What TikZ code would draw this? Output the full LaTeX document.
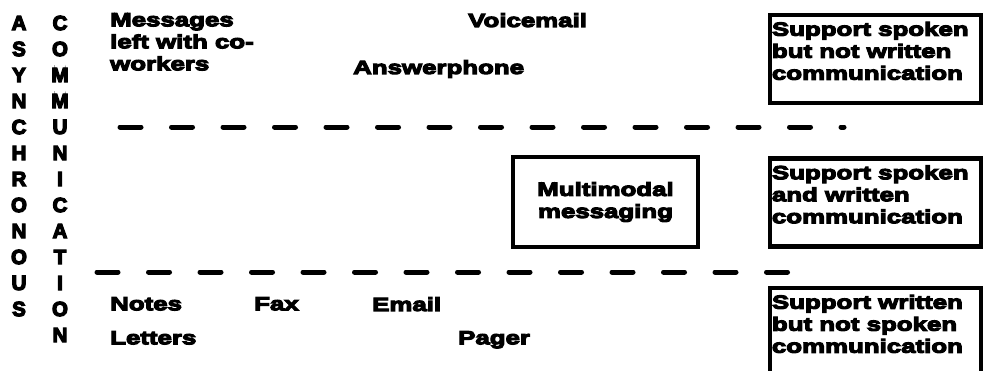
\documentclass[tikz,border=0pt]{standalone}
\usepackage{fontspec}
% Heavy, wide sans for all labels
\newfontfamily\heavy{Liberation Sans Bold}[FakeStretch=1.36,FakeBold=6]
\newfontfamily\heavyletter{Liberation Sans Bold}[FakeStretch=1.0,FakeBold=6]
\setlength{\lineskiplimit}{-40pt}
\begin{document}
\begin{tikzpicture}[x=1pt,y=-1pt,
  lbl/.style={anchor=north west,inner sep=0pt,align=left,
    font=\heavy\fontsize{19}{22}\selectfont},
  vletter/.style={inner sep=0pt,font=\heavyletter\fontsize{20.5}{20}\selectfont},
  sidebox/.style={draw,line width=4.5pt,minimum width=211pt,minimum height=88pt,inner sep=0pt},
  mmbox/.style={draw,line width=4pt,minimum width=185pt,minimum height=90pt,
    inner sep=2pt,align=center,font=\heavy\fontsize{19}{22}\selectfont},
  divider/.style={line width=5pt,line cap=round,dash pattern=on 21pt off 30.5pt}]

\useasboundingbox (0,0) rectangle (984,370);

% vertical titles
\foreach \ch [count=\i] in {A,S,Y,N,C,H,R,O,N,O,U,S}
  \node[vletter] (as\i) at (19,{23+26*(\i-1)}) {\ch};
\foreach \ch [count=\i] in {C,O,M,M,U,N,I,C,A,T,I,O,N}
  \node[vletter] (co\i) at (60,{23+26*(\i-1)}) {\ch};

% spoken-only media
\node[lbl] (msg) at (110,13) {Messages\\left with co-\\workers};
\node[lbl] (vm) at (468,13) {Voicemail};
\node[lbl] (ap) at (353,60) {Answerphone};

% multimodal
\node[mmbox] (mm) at (605.5,202) {Multimodal\\messaging};

% written-only media
\node[lbl] (notes) at (110,297) {Notes};
\node[lbl] (fax) at (254,297) {Fax};
\node[lbl] (email) at (372,297) {Email};
\node[lbl] (letters) at (110,331) {Letters};
\node[lbl] (pager) at (458,331) {Pager};

% category boxes on the right
\node[sidebox] (b1) at (875.5,59) {};
\node[sidebox] (b2) at (875.5,202.5) {};
\node[sidebox] (b3) at (875.5,332) {};
\node[lbl] (t1) at ([xshift=4pt,yshift=-9pt]b1.north west) {Support spoken\\but not written\\communication};
\node[lbl] (t2) at ([xshift=4pt,yshift=-9pt]b2.north west) {Support spoken\\and written\\communication};
\node[lbl] (t3) at ([xshift=4pt,yshift=-9pt]b3.north west) {Support written\\but not spoken\\communication};

% dividing lines
\coordinate (u1) at (120,127);
\coordinate (u2) at (844,127);
\coordinate (l1) at (97,272);
\coordinate (l2) at (795,272);
\draw[divider] (u1) -- (u2);
\draw[divider] (l1) -- (l2);
\end{tikzpicture}
\end{document}
